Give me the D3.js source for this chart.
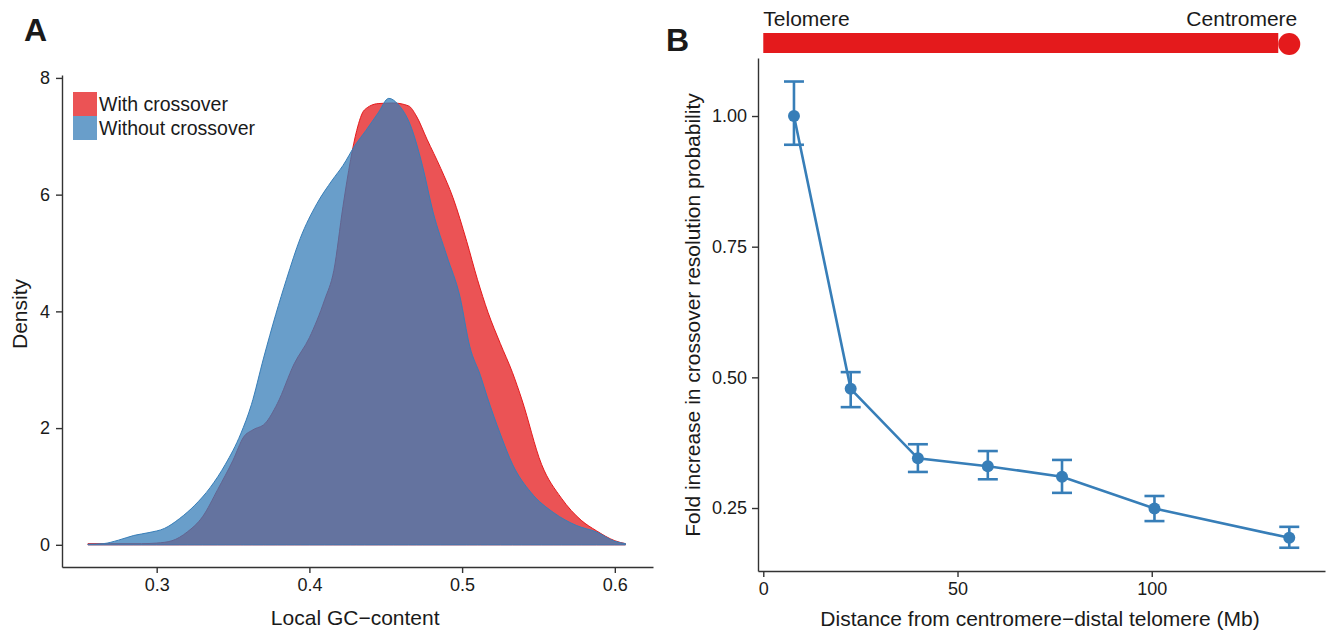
<!DOCTYPE html>
<html lang="en">
<head>
    <meta charset="UTF-8">
    <title>GC content and crossover position</title>
    <script src="https://d3js.org/d3.v7.min.js"></script>
    <style>
        body { margin: 0; background: #fff; }
        svg text { font-family: "Liberation Sans", Arial, Helvetica, sans-serif; fill: #1a1a1a; }
        .axis path, .axis line { stroke: #333; stroke-width: 1.4; }
    </style>
</head>
<body>
    <svg id="chart" width="1334" height="632"></svg>
    <script>
        // Panel A: kernel density of local GC-content
        const gcWith = [
            [0.255, 0.02], [0.27, 0.02], [0.29, 0.02], [0.30, 0.03], [0.31, 0.07], [0.32, 0.22],
            [0.33, 0.48], [0.34, 0.95], [0.35, 1.45], [0.357, 1.85], [0.363, 1.97], [0.371, 2.08],
            [0.379, 2.42], [0.39, 3.1], [0.40, 3.55], [0.41, 4.2], [0.416, 4.7], [0.422, 5.8],
            [0.427, 6.6], [0.431, 7.1], [0.436, 7.45], [0.445, 7.56], [0.455, 7.57], [0.465, 7.52],
            [0.47, 7.35], [0.477, 6.95], [0.486, 6.45], [0.494, 5.95], [0.503, 5.2], [0.51, 4.55],
            [0.517, 3.98], [0.525, 3.45], [0.533, 2.95], [0.539, 2.5], [0.552, 1.38], [0.565, 0.8],
            [0.578, 0.42], [0.588, 0.24], [0.60, 0.07], [0.607, 0.02]
        ];
        const gcWithout = [
            [0.255, 0.01], [0.265, 0.02], [0.275, 0.08], [0.285, 0.16], [0.295, 0.21], [0.305, 0.28],
            [0.315, 0.45], [0.325, 0.68], [0.335, 0.98], [0.345, 1.38], [0.355, 1.9], [0.362, 2.4],
            [0.370, 3.2], [0.378, 3.95], [0.385, 4.55], [0.394, 5.25], [0.405, 5.85], [0.415, 6.25],
            [0.422, 6.5], [0.43, 6.85], [0.437, 7.1], [0.445, 7.4], [0.452, 7.65], [0.458, 7.55],
            [0.466, 7.2], [0.474, 6.5], [0.481, 5.7], [0.49, 4.95], [0.4986, 4.25], [0.505, 3.4],
            [0.512, 2.9], [0.5165, 2.53], [0.525, 1.9], [0.533, 1.38], [0.545, 0.9], [0.56, 0.55],
            [0.575, 0.33], [0.588, 0.22], [0.60, 0.06], [0.607, 0.02]
        ];
        const groups = ["With crossover", "Without crossover"];
        const gcTicks = [0.3, 0.4, 0.5, 0.6];
        const densityTicks = [0, 2, 4, 6, 8];

        // Panel B: fold increase by distance from telomere
        const distance = [7.9, 22.5, 39.8, 57.8, 76.9, 100.7, 135.4];
        const fold = [1.0, 0.478, 0.345, 0.330, 0.310, 0.249, 0.193];
        const foldLow = [0.945, 0.443, 0.319, 0.305, 0.279, 0.225, 0.174];
        const foldHigh = [1.066, 0.510, 0.372, 0.359, 0.342, 0.273, 0.214];
        const distTicks = [0, 50, 100];
        const foldTicks = [0.25, 0.50, 0.75, 1.00];
        const chromLength = 135.4;

        const red = "#e41a1c", blue = "#377eb8";
        const svg = d3.select("#chart");

        // ---------- Panel A ----------
        const xA = d3.scaleLinear().domain([0.238, 0.625]).range([62, 653]);
        const yA = d3.scaleLinear().domain([-0.38, 8.05]).range([567, 75]);

        const area = d3.area()
            .curve(d3.curveMonotoneX)
            .x(d => xA(d[0]))
            .y0(yA(0))
            .y1(d => yA(d[1]));

        svg.append("path").datum(gcWith)
            .attr("d", area)
            .attr("fill", red).attr("fill-opacity", 0.75)
            .attr("stroke", red).attr("stroke-width", 1);
        svg.append("path").datum(gcWithout)
            .attr("d", area)
            .attr("fill", blue).attr("fill-opacity", 0.75)
            .attr("stroke", blue).attr("stroke-width", 1);

        svg.append("g").attr("class", "axis")
            .attr("transform", `translate(0,567)`)
            .call(d3.axisBottom(xA).tickValues(gcTicks).tickSize(6).tickPadding(5).tickSizeOuter(0).tickFormat(d3.format(".1f")))
            .call(g => g.selectAll("text").attr("font-size", 18));
        svg.append("g").attr("class", "axis")
            .attr("transform", `translate(62,0)`)
            .call(d3.axisLeft(yA).tickValues(densityTicks).tickSize(6).tickPadding(6).tickSizeOuter(0))
            .call(g => g.selectAll("text").attr("font-size", 18));

        svg.append("text").attr("x", xA(0.43)).attr("y", 625)
            .attr("text-anchor", "middle").attr("font-size", 21).text("Local GC\u2212content");
        svg.append("text").attr("transform", "translate(27,314) rotate(-90)")
            .attr("text-anchor", "middle").attr("font-size", 21).text("Density");

        const legend = svg.append("g").attr("transform", "translate(73,92)");
        groups.forEach((name, i) => {
            legend.append("rect").attr("x", 0).attr("y", i * 24)
                .attr("width", 24).attr("height", 24)
                .attr("fill", i === 0 ? red : blue).attr("fill-opacity", 0.75);
            legend.append("text").attr("x", 26).attr("y", i * 24 + 19)
                .attr("font-size", 19.5).text(name);
        });

        svg.append("text").attr("x", 24).attr("y", 41)
            .attr("font-size", 32).attr("font-weight", "bold").text("A");

        // ---------- Panel B ----------
        const xB = d3.scaleLinear().domain([-1.36, 144.6]).range([758, 1325]);
        const yB = d3.scaleLinear().domain([0.1295, 1.111]).range([571, 58]);
        const pts = distance.map((d, i) => ({x: d, y: fold[i], lo: foldLow[i], hi: foldHigh[i]}));

        // chromosome bar
        svg.append("rect")
            .attr("x", xB(0)).attr("y", 33)
            .attr("width", xB(chromLength) - xB(0) - 11).attr("height", 20)
            .attr("fill", red);
        svg.append("circle").attr("cx", xB(chromLength)).attr("cy", 44).attr("r", 11).attr("fill", red);
        svg.append("text").attr("x", xB(0)).attr("y", 26).attr("font-size", 21)
            .attr("fill", "#333").text("Telomere");
        svg.append("text").attr("x", xB(chromLength) + 8).attr("y", 26).attr("font-size", 21)
            .attr("text-anchor", "end").text("Centromere");

        svg.append("g").attr("class", "axis")
            .attr("transform", `translate(0,571)`)
            .call(d3.axisBottom(xB).tickValues(distTicks).tickSize(6).tickPadding(5).tickSizeOuter(0))
            .call(g => g.selectAll("text").attr("font-size", 18));
        svg.append("g").attr("class", "axis")
            .attr("transform", `translate(758,0)`)
            .call(d3.axisLeft(yB).tickValues(foldTicks).tickSize(6).tickPadding(5).tickSizeOuter(0).tickFormat(d3.format(".2f")))
            .call(g => g.selectAll("text").attr("font-size", 18));

        const line = d3.line().x(d => xB(d.x)).y(d => yB(d.y));
        svg.append("path").datum(pts)
            .attr("d", line).attr("fill", "none")
            .attr("stroke", blue).attr("stroke-width", 2.6);

        const bars = svg.append("g").attr("stroke", blue).attr("stroke-width", 2.6);
        bars.selectAll(".stem").data(pts).join("line")
            .attr("x1", d => xB(d.x)).attr("x2", d => xB(d.x))
            .attr("y1", d => yB(d.lo)).attr("y2", d => yB(d.hi));
        bars.selectAll(".capHi").data(pts).join("line")
            .attr("x1", d => xB(d.x) - 10).attr("x2", d => xB(d.x) + 10)
            .attr("y1", d => yB(d.hi)).attr("y2", d => yB(d.hi));
        bars.selectAll(".capLo").data(pts).join("line")
            .attr("x1", d => xB(d.x) - 10).attr("x2", d => xB(d.x) + 10)
            .attr("y1", d => yB(d.lo)).attr("y2", d => yB(d.lo));

        svg.append("g").selectAll("circle").data(pts).join("circle")
            .attr("cx", d => xB(d.x)).attr("cy", d => yB(d.y))
            .attr("r", 6).attr("fill", blue);

        svg.append("text").attr("x", 1040).attr("y", 626)
            .attr("text-anchor", "middle").attr("font-size", 21)
            .text("Distance from centromere\u2212distal telomere (Mb)");
        svg.append("text").attr("transform", "translate(700,315) rotate(-90)")
            .attr("text-anchor", "middle").attr("font-size", 21)
            .text("Fold increase in crossover resolution probability");

        svg.append("text").attr("x", 666).attr("y", 51)
            .attr("font-size", 32).attr("font-weight", "bold").text("B");
    </script>
</body>
</html>
